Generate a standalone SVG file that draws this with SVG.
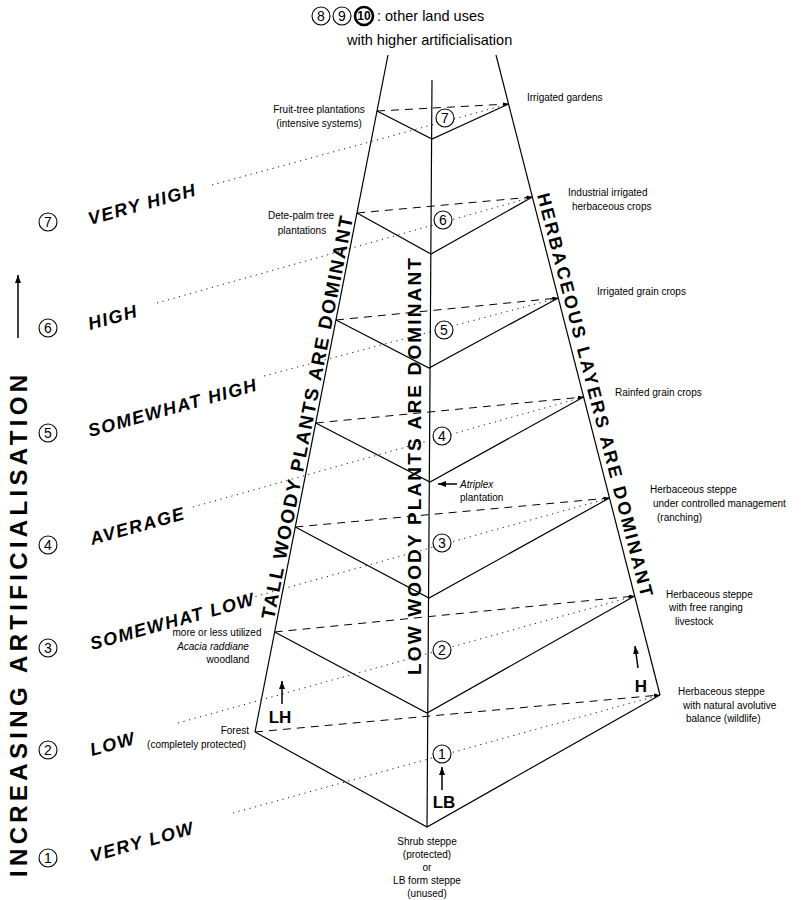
<svg xmlns="http://www.w3.org/2000/svg" width="803" height="900" viewBox="0 0 803 900">
<defs>
<marker id="ah" markerWidth="8" markerHeight="6" refX="8" refY="3" orient="auto" markerUnits="userSpaceOnUse"><path d="M0,0 L8,3 L0,6 z" fill="#000"/></marker>
<marker id="as" markerWidth="6" markerHeight="4" refX="6" refY="2" orient="auto" markerUnits="userSpaceOnUse"><path d="M0,0 L6,2 L0,4 z" fill="#000"/></marker>
</defs>
<style>
text{font-family:"Liberation Sans",Arial,sans-serif;fill:#000}
.ln{stroke:#000;stroke-width:1.2;fill:none}
.da{stroke:#000;stroke-width:1;stroke-dasharray:8 6;fill:none}
.dt{stroke:#000;stroke-width:0.9;stroke-dasharray:1.2 4.5;fill:none}
.ar{stroke:#000;stroke-width:1.5;fill:none}
.s{font-size:10px}
.lv{font-size:18px;font-weight:bold;font-style:italic;letter-spacing:1.5px}
.bg{font-weight:bold}
.cn{font-size:14px;text-anchor:middle}
.ci{fill:#fff;stroke:#000;stroke-width:1.1}
.m{text-anchor:middle}
.e{text-anchor:end}
</style>
<rect width="803" height="900" fill="#fff"/>

<!-- connectors -->
<g id="connectors">
  <!-- outer frame -->
  <path class="ln" d="M388,55 L255,732"/>
  <path class="ln" d="M496,55 L660,695"/>
  <path class="ln" d="M432,80 L427,827"/>
  <!-- chevrons -->
  <path class="ln" d="M377,111 L432,139 L508.6,104"/>
  <path class="ln" d="M357,213 L431,254 L532.4,197"/>
  <path class="ln" d="M336,320 L429,368 L558.3,298"/>
  <path class="ln" d="M315.7,423 L430,482 L583.6,397"/>
  <path class="ln" d="M295.3,527 L429,598 L609.5,498"/>
  <path class="ln" d="M274.6,632 L427,713 L634.6,596"/>
  <path class="ln" d="M255,732 L427,827 L660,695"/>
  <!-- dashed -->
  <path class="da" marker-end="url(#as)" d="M377,111 L508.6,104"/>
  <path class="da" marker-end="url(#as)" d="M357,213 L532.4,197"/>
  <path class="da" marker-end="url(#as)" d="M336,320 L558.3,298"/>
  <path class="da" marker-end="url(#as)" d="M315.7,423 L583.6,397"/>
  <path class="da" marker-end="url(#as)" d="M295.3,527 L609.5,498"/>
  <path class="da" marker-end="url(#as)" d="M274.6,632 L634.6,596"/>
  <path class="da" marker-end="url(#as)" d="M255,732 L660,695"/>
  <!-- dotted -->
  <path class="dt" d="M212,185 L508.6,104"/>
  <path class="dt" d="M157,303 L532.4,197"/>
  <path class="dt" d="M264,376 L558.3,298"/>
  <path class="dt" d="M193,507 L583.6,397"/>
  <path class="dt" d="M250,598 L609.5,498"/>
  <path class="dt" d="M178,723 L634.6,596"/>
  <path class="dt" d="M233,813 L660,695"/>
  <!-- small arrows -->
  <path class="ar" marker-end="url(#ah)" d="M18,338 L18,275"/>
  <path class="ar" marker-end="url(#ah)" d="M457,484 L438,484"/>
  <path class="ar" marker-end="url(#ah)" d="M282,704 L282,681"/>
  <path class="ar" marker-end="url(#ah)" d="M442,790 L442,767"/>
  <path class="ar" marker-end="url(#ah)" d="M638,668 L635,646"/>
</g>

<!-- axis -->
<g id="axis">
  <text class="bg" style="font-size:24px" transform="translate(27,877) rotate(-90)" textLength="502" lengthAdjust="spacing">INCREASING ARTIFICIALISATION</text>
</g>

<!-- top note -->
<g id="note-top">
  <circle class="ci" cx="321" cy="16" r="9"/><text class="cn" x="321" y="21">8</text>
  <circle class="ci" cx="342" cy="16" r="9"/><text class="cn" x="342" y="21">9</text>
  <circle class="ci" cx="364" cy="16" r="9" style="stroke-width:2.6"/><text class="cn" x="364" y="20" style="font-size:12px;font-weight:bold">10</text>
  <text x="377" y="21" style="font-size:14.5px">: other land uses</text>
  <text x="347" y="45" style="font-size:14.5px">with higher artificialisation</text>
</g>

<!-- level labels -->
<g id="level-7">
  <circle class="ci" cx="48" cy="222" r="9"/><text class="cn" x="48" y="227">7</text>
  <text class="lv" transform="translate(90,225) rotate(-15.5)">VERY HIGH</text>
</g>
<g id="level-6">
  <circle class="ci" cx="48" cy="328" r="9"/><text class="cn" x="48" y="333">6</text>
  <text class="lv" transform="translate(90,330) rotate(-15.5)">HIGH</text>
</g>
<g id="level-5">
  <circle class="ci" cx="48" cy="433" r="9"/><text class="cn" x="48" y="438">5</text>
  <text class="lv" transform="translate(90,437) rotate(-15.5)">SOMEWHAT HIGH</text>
</g>
<g id="level-4">
  <circle class="ci" cx="48" cy="545" r="9"/><text class="cn" x="48" y="550">4</text>
  <text class="lv" transform="translate(92,545) rotate(-15.5)">AVERAGE</text>
</g>
<g id="level-3">
  <circle class="ci" cx="48" cy="648" r="9"/><text class="cn" x="48" y="653">3</text>
  <text class="lv" transform="translate(92,650) rotate(-15.5)">SOMEWHAT LOW</text>
</g>
<g id="level-2">
  <circle class="ci" cx="48" cy="750" r="9"/><text class="cn" x="48" y="755">2</text>
  <text class="lv" transform="translate(92,756) rotate(-15.5)">LOW</text>
</g>
<g id="level-1">
  <circle class="ci" cx="48" cy="858" r="9"/><text class="cn" x="48" y="863">1</text>
  <text class="lv" transform="translate(92,862) rotate(-15.5)">VERY LOW</text>
</g>

<!-- inner numbers -->
<g id="inner-numbers">
  <circle class="ci" cx="445" cy="118" r="9"/><text class="cn" x="445" y="123">7</text>
  <circle class="ci" cx="443" cy="220" r="9"/><text class="cn" x="443" y="225">6</text>
  <circle class="ci" cx="444" cy="330" r="9"/><text class="cn" x="444" y="335">5</text>
  <circle class="ci" cx="442" cy="436" r="9"/><text class="cn" x="442" y="441">4</text>
  <circle class="ci" cx="442" cy="543" r="9"/><text class="cn" x="442" y="548">3</text>
  <circle class="ci" cx="442" cy="650" r="9"/><text class="cn" x="442" y="655">2</text>
  <circle class="ci" cx="442" cy="754" r="9"/><text class="cn" x="442" y="759">1</text>
</g>

<!-- band labels -->
<g id="band-tall">
  <text class="bg" style="font-size:19px" transform="translate(274,620) rotate(-78.9)" textLength="410" lengthAdjust="spacing">TALL WOODY PLANTS ARE DOMINANT</text>
</g>
<g id="band-low">
  <text class="bg" style="font-size:19px" transform="translate(421,675) rotate(-90)" textLength="417" lengthAdjust="spacing">LOW WOODY PLANTS ARE DOMINANT</text>
</g>
<g id="band-herb">
  <text class="bg" style="font-size:18px" transform="translate(537,195) rotate(75.5)" textLength="416" lengthAdjust="spacing">HERBACEOUS LAYERS ARE DOMINANT</text>
</g>

<!-- left annotations -->
<g id="fruit-tree">
  <text class="s m" x="319" y="113">Fruit-tree plantations</text>
  <text class="s m" x="319" y="127">(intensive systems)</text>
</g>
<g id="date-palm">
  <text class="s m" x="301" y="219">Dete-palm tree</text>
  <text class="s m" x="302" y="234">plantations</text>
</g>
<g id="acacia">
  <text class="s m" x="217" y="636">more or less utilized</text>
  <text class="s m" x="213" y="650" style="font-style:italic">Acacia raddiane</text>
  <text class="s m" x="228" y="663">woodland</text>
</g>
<g id="forest">
  <text class="s e" x="249" y="734">Forest</text>
  <text class="s e" x="246" y="748">(completely protected)</text>
</g>
<g id="lh"><text class="bg m" x="280" y="723" style="font-size:17px">LH</text></g>
<g id="lb"><text class="bg m" x="444" y="808" style="font-size:17px">LB</text></g>
<g id="h"><text class="bg m" x="641" y="692" style="font-size:17px">H</text></g>
<g id="atriplex">
  <text class="s" x="460" y="488" style="font-style:italic">Atriplex</text>
  <text class="s" x="460" y="501">plantation</text>
</g>
<g id="shrub">
  <text class="s m" x="427" y="845">Shrub steppe</text>
  <text class="s m" x="427" y="858">(protected)</text>
  <text class="s m" x="427" y="871">or</text>
  <text class="s m" x="427" y="884">LB form steppe</text>
  <text class="s m" x="427" y="897">(unused)</text>
</g>

<!-- right annotations -->
<g id="gardens"><text class="s" x="527" y="101">Irrigated gardens</text></g>
<g id="industrial">
  <text class="s" x="568" y="196">Industrial irrigated</text>
  <text class="s" x="572" y="210">herbaceous crops</text>
</g>
<g id="grain-irr"><text class="s" x="597" y="295">Irrigated grain crops</text></g>
<g id="grain-rain"><text class="s" x="615" y="396">Rainfed grain crops</text></g>
<g id="ranching">
  <text class="s" x="650" y="493">Herbaceous steppe</text>
  <text class="s" x="653" y="507">under controlled management</text>
  <text class="s" x="657" y="521">(ranching)</text>
</g>
<g id="free-ranging">
  <text class="s" x="666" y="598">Herbaceous steppe</text>
  <text class="s" x="669" y="611">with free ranging</text>
  <text class="s" x="675" y="625">livestock</text>
</g>
<g id="wildlife">
  <text class="s" x="678" y="695">Herbaceous steppe</text>
  <text class="s" x="683" y="709">with natural avolutive</text>
  <text class="s" x="686" y="722">balance (wildlife)</text>
</g>
</svg>
